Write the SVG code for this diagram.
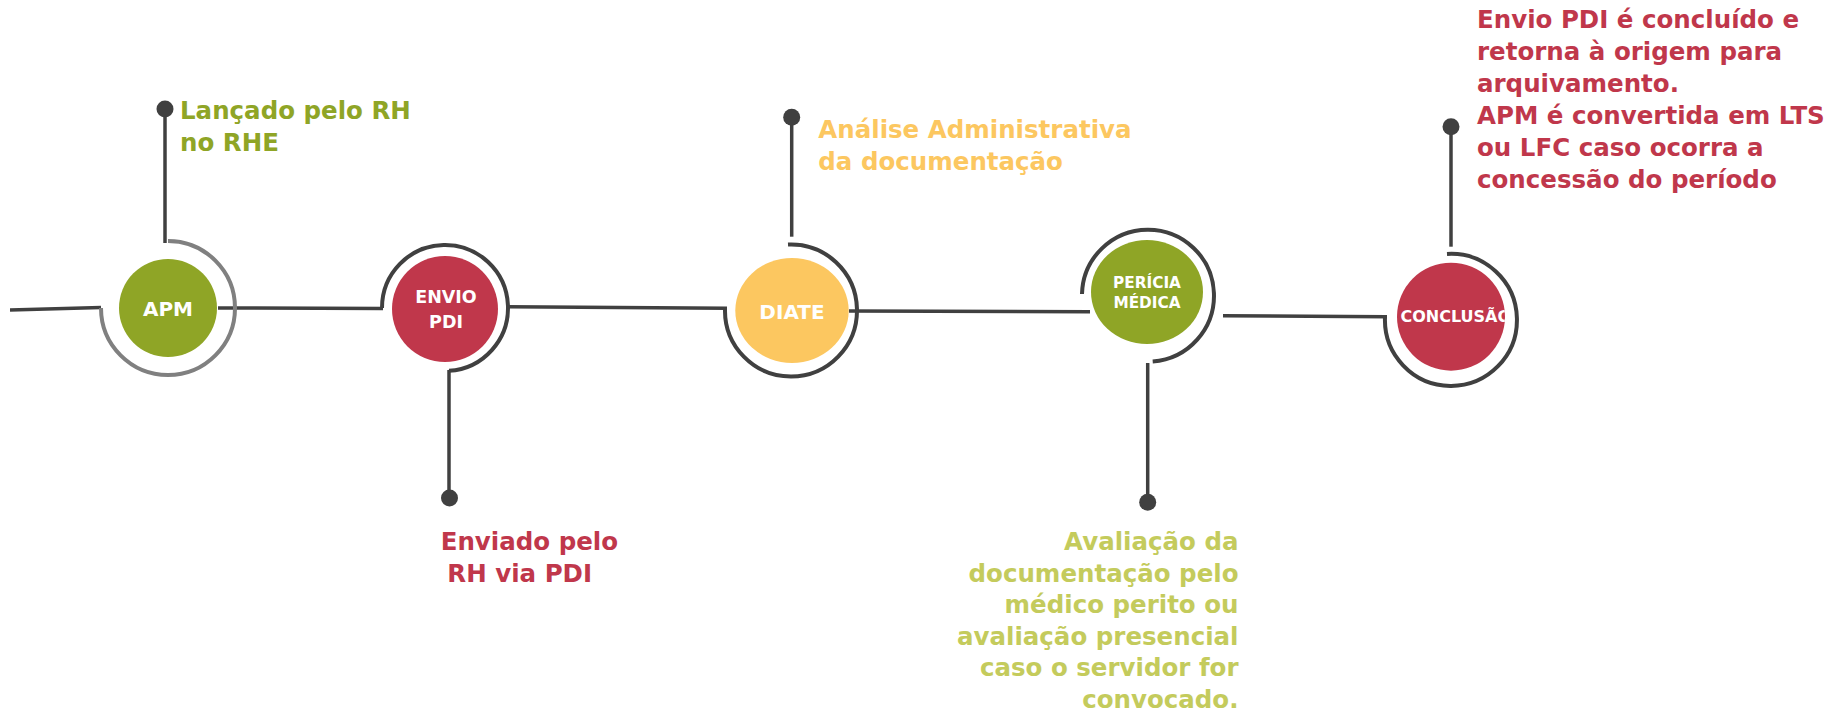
<svg xmlns="http://www.w3.org/2000/svg" width="1835" height="712" viewBox="0 0 1835 712">
<style>
.ln{fill:none;stroke:#404040;stroke-width:3.5}
.ring{fill:none;stroke:#404040;stroke-width:4}
.ringg{fill:none;stroke:#808080;stroke-width:4}
.dot{fill:#404040}
.t{font-family:"DejaVu Sans",sans-serif;font-weight:bold;font-size:24.5px}
.nl{font-family:"DejaVu Sans",sans-serif;font-weight:bold;fill:#ffffff;text-anchor:middle}
.g{fill:#8fa526}
.r{fill:#c0374b}
.y{fill:#fcc760}
.lg{fill:#c4cb5c}
</style>
<defs>
<clipPath id="cc"><circle cx="1451" cy="316.7" r="54"/></clipPath>
</defs>
<g id="connectors">
<path class="ln" d="M10,310 L101,307.5"/>
<path class="ln" d="M218,308 L383,308.5"/>
<path class="ln" d="M508,306.7 L727,308.3"/>
<path class="ln" d="M849,311 L1090,311.7"/>
<path class="ln" d="M1223,315.7 L1387,316.7"/>
</g>
<g id="apm">
<circle class="g" cx="168" cy="308" r="49"/>
<path class="ringg" d="M168,241 A67,67 0 1 1 101,308"/>
<path class="ln" d="M165,243 L165,109"/>
<circle class="dot" cx="165" cy="109" r="8.5"/>
<text class="nl" x="168" y="316" font-size="20">APM</text>
<text class="t g" x="180" y="119">Lançado pelo RH</text>
<text class="t g" x="180" y="151">no RHE</text>
</g>
<g id="envio">
<circle class="r" cx="445" cy="309" r="53"/>
<path class="ring" d="M382,308 A63,63 0 1 1 449,370.8"/>
<path class="ln" d="M449,370 L449,498"/>
<circle class="dot" cx="449.5" cy="498" r="8.5"/>
<text class="nl" x="446" y="303.3" font-size="17.5">ENVIO</text>
<text class="nl" x="446" y="327.7" font-size="17.5">PDI</text>
<text class="t r" x="440.7" y="550">Enviado pelo</text>
<text class="t r" x="447.3" y="581.7">RH via PDI</text>
</g>
<g id="diate">
<ellipse class="y" cx="792" cy="310.5" rx="56.7" ry="52.5"/>
<path class="ring" d="M725,309 A66,66 0 1 0 788,244.5"/>
<path class="ln" d="M791.7,236.7 L791.7,117.3"/>
<circle class="dot" cx="791.7" cy="117.3" r="8.5"/>
<text class="nl" x="792" y="319" font-size="20">DIATE</text>
<text class="t y" x="818.3" y="137.7">Análise Administrativa</text>
<text class="t y" x="818.3" y="170">da documentação</text>
</g>
<g id="pericia">
<ellipse class="g" cx="1147" cy="292" rx="56" ry="52"/>
<path class="ring" d="M1082,294 A66,66 0 1 1 1152.7,361.5"/>
<path class="ln" d="M1147.7,363 L1147.7,502"/>
<circle class="dot" cx="1147.7" cy="502.3" r="8.5"/>
<text class="nl" x="1147" y="288.3" font-size="15.3">PERÍCIA</text>
<text class="nl" x="1147" y="308.3" font-size="15.3">MÉDICA</text>
<g class="t lg" text-anchor="end">
<text x="1238.5" y="550">Avaliação da</text>
<text x="1238.5" y="581.6">documentação pelo</text>
<text x="1238.5" y="613.2">médico perito ou</text>
<text x="1238.5" y="644.8">avaliação presencial</text>
<text x="1238.5" y="676.4">caso o servidor for</text>
<text x="1238.5" y="708">convocado.</text>
</g>
</g>
<g id="conclusao">
<circle class="r" cx="1451" cy="316.7" r="54"/>
<path class="ring" d="M1385,317 A66,66 0 1 0 1447,254"/>
<path class="ln" d="M1451,246.7 L1451,126.7"/>
<circle class="dot" cx="1451" cy="126.7" r="8.5"/>
<text clip-path="url(#cc)" font-family="DejaVu Sans, sans-serif" font-weight="bold" fill="#ffffff" font-size="16" x="1400.5" y="321.7">CONCLUSÃO</text>
<g class="t r">
<text x="1477" y="28.3">Envio PDI é concluído e</text>
<text x="1477" y="60.2">retorna à origem para</text>
<text x="1477" y="92.1">arquivamento.</text>
<text x="1477" y="124">APM é convertida em LTS</text>
<text x="1477" y="155.9">ou LFC caso ocorra a</text>
<text x="1477" y="187.8">concessão do período</text>
</g>
</g>
</svg>
